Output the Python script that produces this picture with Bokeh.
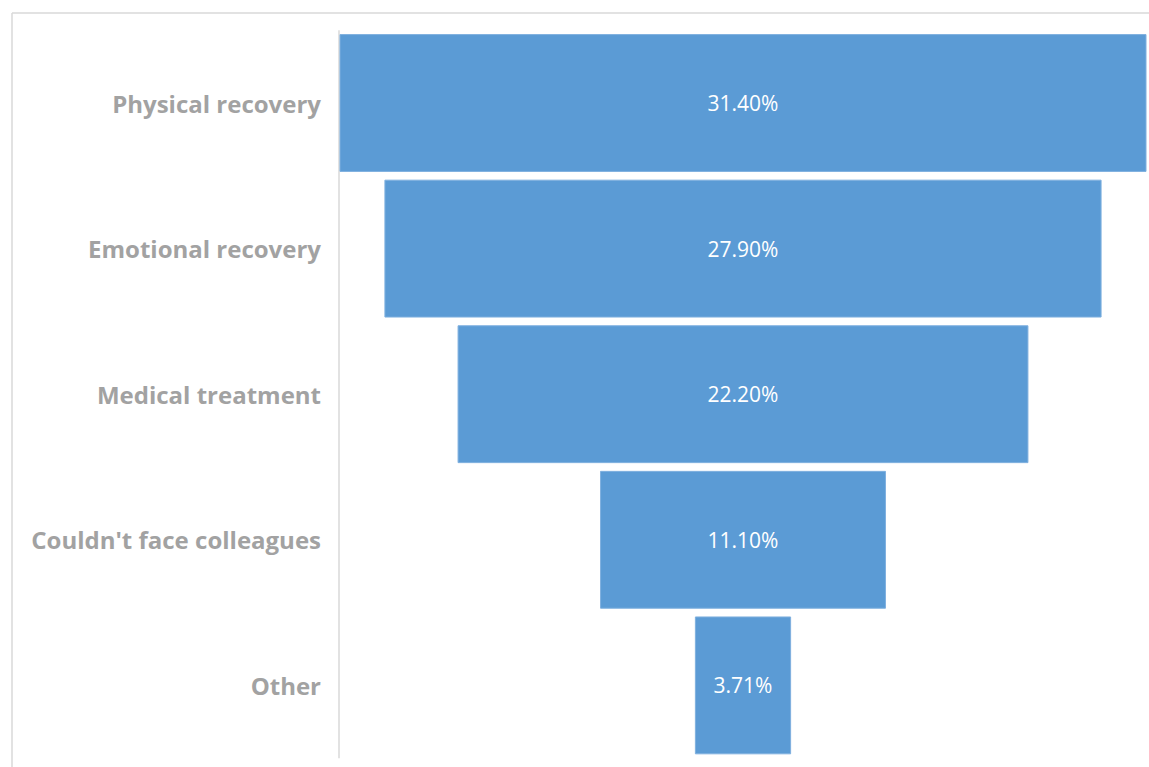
from bokeh.plotting import figure
from bokeh.models import ColumnDataSource, Range1d
from bokeh.core.properties import value
from bokeh.embed import file_html
from bokeh.resources import INLINE

# ---- data ----
categories = ["Physical recovery", "Emotional recovery", "Medical treatment",
              "Couldn't face colleagues", "Other"]
values = [31.40, 27.90, 22.20, 11.10, 3.71]
value_labels = ["31.40%", "27.90%", "22.20%", "11.10%", "3.71%"]

# ---- layout geometry (pixels) ----
W, H = 1149, 767
center_px = 742.5          # funnel centre, canvas px
bar_span_px = 806.0        # width of the widest bar
band_px = 145.6            # height of one category band
first_center_px = 102.5    # centre of first band, canvas px

ppu = bar_span_px / max(values)
x_start = -center_px / ppu
x_end = (W - center_px) / ppu
y_top = -first_center_px / band_px
y_bottom = (H - first_center_px) / band_px

def xd(px):
    return (px - center_px) / ppu

def yd(px):
    return (px - first_center_px) / band_px

idx = list(range(len(categories)))
half = max(values) / 2
src = ColumnDataSource(dict(
    y=idx,
    left=[-v / 2 for v in values],
    right=[v / 2 for v in values],
    cat=categories,
    lab=value_labels,
))

p = figure(width=W, height=H, output_backend="svg", toolbar_location=None,
           x_range=Range1d(x_start, x_end), y_range=Range1d(y_bottom, y_top),
           min_border=0, tools="")
p.axis.visible = False
p.grid.visible = False
p.outline_line_color = None
p.background_fill_color = "white"
p.border_fill_color = "white"

# outer chart border (left + top)
p.segment(x0=[xd(11.5), xd(11.5)], y0=[yd(12.5), yd(12.5)], x1=[xd(11.5), xd(W + 50)],
          y1=[yd(H + 50), yd(12.5)], line_color="#d9d9d9", line_width=1.5)

# vertical category axis line
p.segment(x0=[-half - 1 / ppu], y0=[-0.5], x1=[-half - 1 / ppu], y1=[len(categories) - 0.5],
          line_color="#d9d9d9", line_width=1.5)

p.hbar(y="y", left="left", right="right", height=0.94, source=src,
       fill_color="#5b9bd5", line_color="#7fb0df", line_width=1)

p.text(x=0, y="y", text="lab", source=src, text_color="white",
       text_font=value("Open Sans"), text_font_size="21px",
       text_align="center", text_baseline="middle")

p.text(x=-half - 19 / ppu, y="y", text="cat", source=src, text_color="#a2a2a2",
       text_font=value("Open Sans"), text_font_style="bold", text_font_size="24px",
       text_align="right", text_baseline="middle")

open("out.html", "w").write(file_html(p, INLINE))
